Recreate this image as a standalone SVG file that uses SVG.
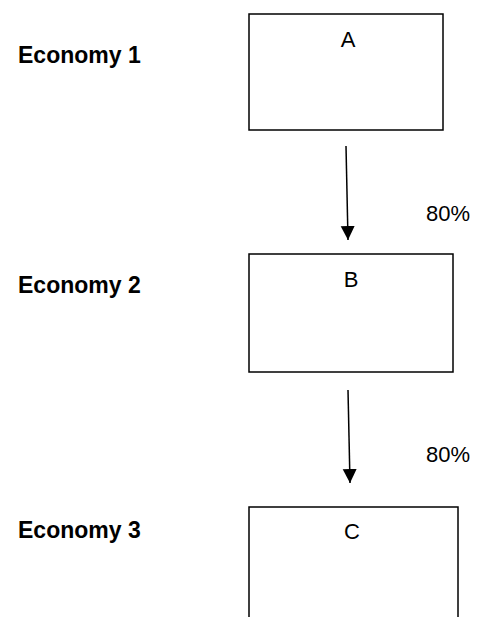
<svg xmlns="http://www.w3.org/2000/svg" width="488" height="617" viewBox="0 0 488 617">
<style>
.box{fill:#fff;stroke:#000;stroke-width:1.5}
.lbl{font-family:"Liberation Sans",Arial,sans-serif;font-size:22px;fill:#000}
.eco{font-family:"Liberation Sans",Arial,sans-serif;font-size:23px;font-weight:bold;fill:#000}
.pct{font-family:"Liberation Sans",Arial,sans-serif;font-size:22px;fill:#000}
.conn{stroke:#000;stroke-width:1.5;fill:none}
</style>
<defs>
<marker id="ah" markerUnits="userSpaceOnUse" markerWidth="16" markerHeight="16" refX="14" refY="7" orient="auto">
<path d="M0,0 L14,7 L0,14 Z" fill="#000"/>
</marker>
</defs>
<g id="labels">
<text class="eco" x="18" y="63">Economy 1</text>
<text class="eco" x="18" y="293">Economy 2</text>
<text class="eco" x="18" y="538">Economy 3</text>
</g>
<g id="nodeA">
<rect class="box" x="249" y="14" width="194" height="116"/>
<text class="lbl" x="348" y="47" text-anchor="middle">A</text>
</g>
<g id="nodeB">
<rect class="box" x="249" y="254" width="204" height="118"/>
<text class="lbl" x="351" y="287" text-anchor="middle">B</text>
</g>
<g id="nodeC">
<rect class="box" x="249" y="507" width="209" height="130"/>
<text class="lbl" x="352" y="539" text-anchor="middle">C</text>
</g>
<g id="connectors">
<line class="conn" x1="346" y1="146" x2="348" y2="240" marker-end="url(#ah)"/>
<line class="conn" x1="348" y1="390" x2="350" y2="483" marker-end="url(#ah)"/>
</g>
<g id="edge-labels">
<text class="pct" x="426" y="221">80%</text>
<text class="pct" x="426" y="462">80%</text>
</g>
</svg>
